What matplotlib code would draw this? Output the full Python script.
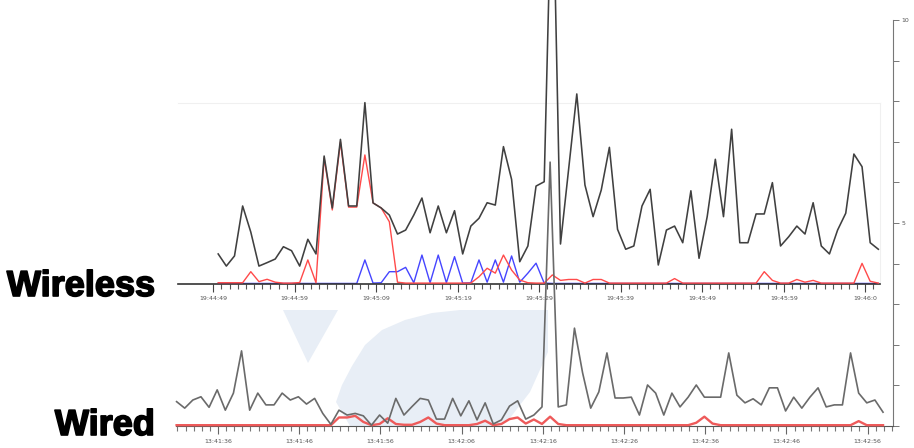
import matplotlib
matplotlib.use("Agg")
import matplotlib.pyplot as plt
import matplotlib.patheffects as pe
from matplotlib.patches import Polygon
import numpy as np

# ---------------- data ----------------
# Wireless (seconds after 19:44:49, one sample per second)
wl_start = 0.6
wl_total = [1.66, 0.99, 1.55, 4.31, 2.87, 0.99, 1.18, 1.38, 2.06, 1.84,
            0.99, 2.47, 1.66, 7.07, 4.20, 7.99, 4.31, 4.31, 10.02, 4.48,
            4.20, 3.81, 2.76, 2.98, 3.81, 4.75, 2.83, 4.31, 2.83, 4.05,
            1.66, 3.20, 3.63, 4.49, 4.36, 7.59, 5.78, 1.23, 2.10, 5.41,
            5.65, 24.0, 2.21, 6.35, 10.50, 5.47, 3.72, 5.19, 7.55, 3.02,
            1.92, 2.10, 4.31, 5.23, 1.05, 2.98, 3.20, 2.28, 5.15, 1.42,
            3.72, 6.89, 3.72, 8.55, 2.28, 2.28, 3.87, 3.87, 5.60, 2.10,
            2.61, 3.20, 2.76, 4.49, 2.10, 1.66, 2.98, 3.91, 7.18, 6.48,
            2.28, 1.92]
wl_red = [0.07, 0.07, 0.07, 0.07, 0.68, 0.13, 0.26, 0.10, 0.05, 0.05,
          0.08, 1.33, 0.07, 6.96, 4.09, 7.85, 4.25, 4.25, 7.13, 4.48,
          4.20, 3.44, 0.10, 0.05, 0.05, 0.05, 0.05, 0.05, 0.05, 0.05,
          0.05, 0.05, 0.40, 0.87, 0.60, 1.60, 0.77, 0.22, 0.07, 0.05,
          0.05, 0.50, 0.20, 0.25, 0.25, 0.05, 0.25, 0.25, 0.05, 0.05,
          0.05, 0.05, 0.05, 0.05, 0.05, 0.05, 0.30, 0.05, 0.05, 0.05,
          0.05, 0.05, 0.05, 0.05, 0.05, 0.05, 0.05, 0.68, 0.20, 0.05,
          0.05, 0.25, 0.10, 0.20, 0.05, 0.05, 0.05, 0.05, 0.05, 1.14,
          0.15, 0.05]
wl_blue = [0.03, 0.03, 0.03, 0.03, 0.03, 0.03, 0.03, 0.03, 0.03, 0.03,
           0.03, 0.03, 0.03, 0.03, 0.03, 0.03, 0.03, 0.03, 1.33, 0.05,
           0.07, 0.68, 0.68, 0.92, 0.07, 1.60, 0.07, 1.60, 0.07, 1.51,
           0.05, 0.07, 1.33, 0.10, 1.33, 0.10, 1.55, 0.10, 0.60, 1.15,
           0.05, 0.03, 0.03, 0.03, 0.03, 0.03, 0.03, 0.03, 0.03, 0.03,
           0.03, 0.03, 0.03, 0.03, 0.03, 0.03, 0.03, 0.03, 0.03, 0.03,
           0.03, 0.03, 0.03, 0.03, 0.03, 0.03, 0.03, 0.03, 0.03, 0.03,
           0.03, 0.03, 0.03, 0.03, 0.03, 0.03, 0.03, 0.03, 0.03, 0.03,
           0.03, 0.03]
wl_ticklabels = ["19:44:49", "19:44:59", "19:45:09", "19:45:19", "19:45:29",
                 "19:45:39", "19:45:49", "19:45:59", "19:46:0"]

# Wired (seconds after 13:41:36, one sample per second)
wd_start = -5.1
wd_total = [0.60, 0.44, 0.64, 0.72, 0.46, 0.89, 0.39, 0.81, 1.85, 0.39,
            0.81, 0.52, 0.52, 0.81, 0.64, 0.72, 0.54, 0.68, 0.31, 0.04,
            0.39, 0.27, 0.31, 0.25, 0.02, 0.27, 0.07, 0.68, 0.27, 0.48,
            0.68, 0.64, 0.17, 0.17, 0.68, 0.25, 0.62, 0.15, 0.57, 0.05,
            0.15, 0.49, 0.62, 0.17, 0.27, 0.47, 6.50, 0.47, 0.52, 2.41,
            1.31, 0.44, 0.84, 1.80, 0.69, 0.69, 0.71, 0.27, 1.01, 0.81,
            0.27, 0.81, 0.47, 0.71, 1.01, 0.71, 0.71, 0.71, 1.80, 0.76,
            0.57, 0.67, 0.52, 0.94, 0.94, 0.37, 0.71, 0.44, 0.71, 0.94,
            0.47, 0.52, 0.52, 1.80, 0.81, 0.57, 0.64, 0.34]
wd_red = [0.02] * 19 + [0.02, 0.21, 0.21, 0.25, 0.10, 0.02, 0.05, 0.19, 0.05,
          0.03, 0.03, 0.10, 0.21, 0.06, 0.02, 0.02, 0.02, 0.02, 0.05, 0.13,
          0.02, 0.05, 0.17, 0.21, 0.06, 0.16, 0.05, 0.23, 0.05] + \
         [0.02] * 16 + [0.08, 0.23, 0.06] + [0.02] * 17 + [0.12, 0.02, 0.02, 0.02]
wd_ticklabels = ["13:41:36", "13:41:46", "13:41:56", "13:42:06", "13:42:16",
                 "13:42:26", "13:42:36", "13:42:46", "13:42:56"]

# ---------------- figure ----------------
W, H = 914, 448
fig = plt.figure(figsize=(W / 100, H / 100), dpi=100)
fig.patch.set_facecolor("white")


def fx(x):
    return x / W


def fy(y):
    return 1 - y / H


# watermark shapes (behind everything)
wm = "#e8eef6"
wedge = [(283, 310), (338, 310), (308, 363)]
blob = [(336, 402), (342, 385), (352, 366), (365, 345), (382, 330), (405, 320),
        (432, 313), (460, 310), (548, 310), (548, 352), (530, 392), (510, 418),
        (495, 426), (350, 426)]
for pts in (wedge, blob):
    fig.patches.append(Polygon([(fx(x), fy(y)) for x, y in pts], closed=True,
                               transform=fig.transFigure, facecolor=wm,
                               edgecolor="none", zorder=-5))

# ---------- wireless axes ----------
px1 = 8.15
x0_1 = 213.3
ax1 = fig.add_axes([fx(178), fy(284), (880 - 178) / W, (284 - 103) / H])
ax1.set_facecolor("none")
ax1.set_xlim((178 - x0_1) / px1, (880 - x0_1) / px1)
ax1.set_ylim(0, 10)
t1 = wl_start + np.arange(len(wl_total))
ax1.plot(t1, wl_blue, color="#4545ff", lw=1.0, zorder=2)
ax1.plot(t1, wl_red, color="#ff4a4a", lw=1.0, zorder=3)
ax1.plot(t1, wl_total, color="#404040", lw=1.15, zorder=4, clip_on=False)
ax1.spines["left"].set_visible(False)
for s in ("top", "right"):
    ax1.spines[s].set_color("#f0f0f0")
    ax1.spines[s].set_linewidth(0.8)
ax1.spines["bottom"].set_color("#333333")
ax1.spines["bottom"].set_linewidth(1.2)
ax1.set_yticks([])
ax1.set_xticks(np.arange(0, 81, 10))
ax1.set_xticklabels(wl_ticklabels)
ax1.set_xticks(np.arange(0, 82, 1), minor=True)
ax1.tick_params(axis="x", which="major", length=6, width=0.8, color="#444444",
                labelsize=4.5, labelcolor="#555555", pad=3)
ax1.tick_params(axis="x", which="minor", length=3.5, width=0.8, color="#555555")

# ---------- wired axes ----------
px2 = 8.12
x0_2 = 218.0
ax2 = fig.add_axes([fx(176), fy(426), (893 - 176) / W, (426 - 20) / H])
ax2.set_facecolor("none")
ax2.set_xlim((176 - x0_2) / px2, (893 - x0_2) / px2)
ax2.set_ylim(0, 10)
t2 = wd_start + np.arange(len(wd_total))
ax2.plot(t2, wd_red, color="#ee5a5a", lw=1.7, zorder=3, clip_on=False)
ax2.plot(t2, wd_total, color="#6a6a6a", lw=1.2, zorder=4, clip_on=False)
ax2.spines["top"].set_visible(False)
ax2.spines["left"].set_visible(False)
ax2.spines["bottom"].set_color("#555555")
ax2.spines["bottom"].set_linewidth(0.8)
ax2.spines["right"].set_color("#777777")
ax2.spines["right"].set_linewidth(0.8)
ax2.yaxis.tick_right()
ax2.set_yticks(np.arange(0, 11, 1))
ax2.set_yticklabels(["" if v not in (5, 10) else str(v) for v in range(11)])
ax2.tick_params(axis="y", length=4, width=0.7, color="#777777", labelsize=4.5,
                labelcolor="#555555", pad=2)
ax2.set_xticks(np.arange(0, 81, 10))
ax2.set_xticklabels(wd_ticklabels)
ax2.set_xticks(np.arange(-5, 84, 1), minor=True)
ax2.tick_params(axis="x", which="major", length=6, width=0.8, color="#666666",
                labelsize=4.5, labelcolor="#555555", pad=3)
ax2.tick_params(axis="x", which="minor", length=3.5, width=0.8, color="#777777")

# ---------- side labels ----------
lab = dict(ha="right", va="baseline", fontsize=26, fontweight="bold",
           family=["Liberation Sans", "DejaVu Sans"], color="black",
           path_effects=[pe.withStroke(linewidth=1.2, foreground="black")])
fig.text(fx(155), fy(296), "Wireless", **lab)
fig.text(fx(155), fy(435), "Wired", **lab)

fig.savefig("out.png", dpi=100)
